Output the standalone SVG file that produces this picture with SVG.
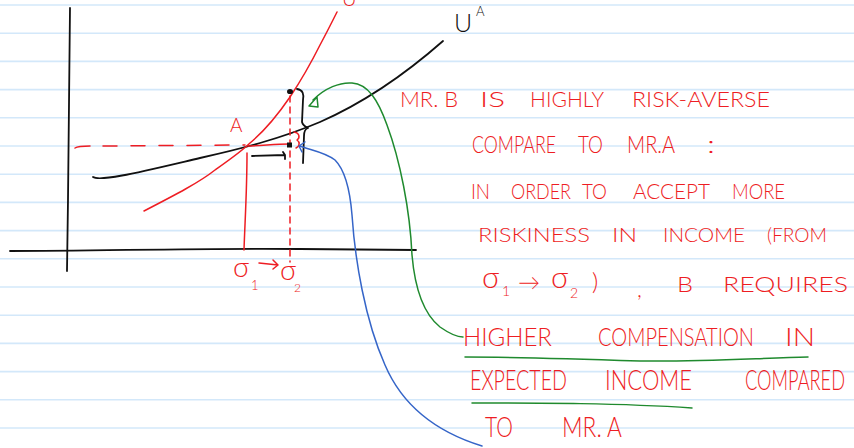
<svg xmlns="http://www.w3.org/2000/svg" width="854" height="448" viewBox="0 0 854 448">
<defs>
<style>
.rule{stroke:#d3e8fa;stroke-width:1.6}
.pen{fill:none;stroke-linecap:round;stroke-linejoin:round}
.blk{stroke:#111;stroke-width:1.8}
.red{stroke:#ee1d23;stroke-width:1.5}
.grn{stroke:#1f8a2e;stroke-width:1.5}
.blu{stroke:#3565c8;stroke-width:1.5}
.t{font-family:Lato,"Liberation Sans",sans-serif;font-weight:300;fill:#ee1d23}
.tk{font-family:Lato,"Liberation Sans",sans-serif;font-weight:300;fill:#111}
</style>
</defs>
<rect width="854" height="448" fill="#ffffff"/>
<g id="paper">
<line class="rule" x1="0" y1="5" x2="854" y2="5"/>
<line class="rule" x1="0" y1="33.2" x2="854" y2="33.2"/>
<line class="rule" x1="0" y1="61.4" x2="854" y2="61.4"/>
<line class="rule" x1="0" y1="89.6" x2="854" y2="89.6"/>
<line class="rule" x1="0" y1="117.8" x2="854" y2="117.8"/>
<line class="rule" x1="0" y1="146" x2="854" y2="146"/>
<line class="rule" x1="0" y1="174.2" x2="854" y2="174.2"/>
<line class="rule" x1="0" y1="202.4" x2="854" y2="202.4"/>
<line class="rule" x1="0" y1="230.6" x2="854" y2="230.6"/>
<line class="rule" x1="0" y1="258.8" x2="854" y2="258.8"/>
<line class="rule" x1="0" y1="287" x2="854" y2="287"/>
<line class="rule" x1="0" y1="315.2" x2="854" y2="315.2"/>
<line class="rule" x1="0" y1="343.4" x2="854" y2="343.4"/>
<line class="rule" x1="0" y1="371.6" x2="854" y2="371.6"/>
<line class="rule" x1="0" y1="399.8" x2="854" y2="399.8"/>
<line class="rule" x1="0" y1="428" x2="854" y2="428"/>
</g>
<g id="axes">
<path class="pen blk" d="M70,8 C69,60 69,150 68,200 L67,271"/>
<path class="pen blk" d="M10,251 C100,251 200,248 300,249 L416,250"/>
</g>
<g id="curve-UA">
<path class="pen blk" d="M93,177 C100,182 140,172 200,158 C240,149 280,139 320,122 C370,100 410,70 443,41"/>
<text class="tk" x="454" y="32" font-size="25">U</text>
<text class="tk" x="476" y="16" font-size="13">A</text>
</g>
<g id="curve-UB">
<path class="pen red" d="M144,211 C175,195 200,182 215,170 C232,158 242,151 250,143 C262,133 277,116 290,97 C300,82 310,65 320,45 C327,32 332,22 337,12"/>
<text class="t" x="342" y="6" font-size="20">U</text>
</g>
<g id="point-A">
<text class="t" x="230" y="132" font-size="19">A</text>
<path class="pen red" d="M75,148 C78,146 84,146 90,146"/>
<path class="pen red" d="M103,146 L245,145" stroke-dasharray="14 14"/>
<path class="pen red" d="M248,146 C260,146 275,144 289,144"/>
<path class="pen red" d="M247,153 C247,190 245,220 244,250"/>
<path class="pen red" d="M290,96 L290,262" stroke-dasharray="6 5"/>
<ellipse cx="290" cy="91.5" rx="3" ry="2.6" fill="#111"/>
<rect x="287" y="142.5" width="5" height="5" fill="#111"/>
<path class="pen blk" stroke-width="1.5" d="M252,156 L285,155 M283,152 L285,155 L285,159"/>
<path class="pen blk" stroke-width="1.5" d="M297,89 C303,90 304,94 303,100 L302,122 C303,126 306,127 308,128 C305,129 304,131 304,136 L303,163"/>
<path class="pen red" d="M294,132 C300,133 300,138 297,140 C300,142 300,146 296,148"/>
</g>
<g id="sigma-labels">
<text class="t" x="233" y="277" font-size="28">σ</text>
<text class="t" x="251" y="290" font-size="13">1</text>
<path class="pen red" d="M259,263 L278,265 M273,260 L278,265 L273,269"/>
<text class="t" x="280" y="280" font-size="28">σ</text>
<text class="t" x="294" y="292" font-size="12">2</text>
</g>
<g id="connectors">
<path class="pen grn" d="M313,100 C325,88 340,82 352,83 C368,84 378,100 387,125 C400,160 410,210 412,255 C415,290 425,315 440,327 C450,334 458,337 463,337"/>
<polygon class="pen grn" points="309,106 317,97 318,107"/>
<path class="pen blu" d="M300,146 C310,150 325,152 335,160 C345,170 350,190 352,215 C355,260 365,320 385,365 C400,400 430,430 482,446"/>
<path class="pen blu" d="M305,142 L299,146 L302,152"/>
</g>
<g id="note">
<text class="t" font-size="21" x="400" y="107" textLength="58" lengthAdjust="spacingAndGlyphs">MR. B</text>
<text class="t" font-size="21" x="480" y="107" textLength="25" lengthAdjust="spacingAndGlyphs">IS</text>
<text class="t" font-size="21" x="530" y="107" textLength="74" lengthAdjust="spacingAndGlyphs">HIGHLY</text>
<text class="t" font-size="21" x="632" y="107" textLength="138" lengthAdjust="spacingAndGlyphs">RISK-AVERSE</text>
<text class="t" font-size="23" x="472" y="153" textLength="84" lengthAdjust="spacingAndGlyphs">COMPARE</text>
<text class="t" font-size="23" x="578" y="153" textLength="25" lengthAdjust="spacingAndGlyphs">TO</text>
<text class="t" font-size="23" x="627" y="153" textLength="48" lengthAdjust="spacingAndGlyphs">MR.A</text>
<text class="t" font-size="23" x="707" y="153" textLength="8" lengthAdjust="spacingAndGlyphs">:</text>
<text class="t" font-size="22" x="471" y="199" textLength="19" lengthAdjust="spacingAndGlyphs">IN</text>
<text class="t" font-size="22" x="511" y="199" textLength="60" lengthAdjust="spacingAndGlyphs">ORDER</text>
<text class="t" font-size="22" x="582" y="199" textLength="25" lengthAdjust="spacingAndGlyphs">TO</text>
<text class="t" font-size="22" x="633" y="199" textLength="77" lengthAdjust="spacingAndGlyphs">ACCEPT</text>
<text class="t" font-size="22" x="732" y="199" textLength="53" lengthAdjust="spacingAndGlyphs">MORE</text>
<text class="t" font-size="19" x="478" y="242" textLength="112" lengthAdjust="spacingAndGlyphs">RISKINESS</text>
<text class="t" font-size="19" x="612" y="242" textLength="25" lengthAdjust="spacingAndGlyphs">IN</text>
<text class="t" font-size="19" x="663" y="242" textLength="82" lengthAdjust="spacingAndGlyphs">INCOME</text>
<text class="t" font-size="19" x="767" y="242" textLength="60" lengthAdjust="spacingAndGlyphs">(FROM</text>
<text class="t" font-size="30" x="482" y="288">σ</text>
<text class="t" font-size="14" x="502" y="296">1</text>
<text class="t" font-size="22" x="518" y="290">→</text>
<text class="t" font-size="30" x="551" y="288">σ</text>
<text class="t" font-size="14" x="570" y="298">2</text>
<text class="t" font-size="24" x="592" y="290">)</text>
<text class="t" font-size="22" x="637" y="297">,</text>
<text class="t" font-size="22" x="677" y="292" textLength="16" lengthAdjust="spacingAndGlyphs">B</text>
<text class="t" font-size="22" x="723" y="292" textLength="125" lengthAdjust="spacingAndGlyphs">REQUIRES</text>
<text class="t" font-size="25" x="463" y="346" textLength="89" lengthAdjust="spacingAndGlyphs">HIGHER</text>
<text class="t" font-size="25" x="598" y="346" textLength="156" lengthAdjust="spacingAndGlyphs">COMPENSATION</text>
<text class="t" font-size="25" x="785" y="346" textLength="30" lengthAdjust="spacingAndGlyphs">IN</text>
<path class="pen grn" d="M465,357 C520,357 580,359 640,361 C700,362 760,358 808,357"/>
<text class="t" font-size="28" x="470" y="390" textLength="97" lengthAdjust="spacingAndGlyphs">EXPECTED</text>
<text class="t" font-size="28" x="605" y="390" textLength="87" lengthAdjust="spacingAndGlyphs">INCOME</text>
<text class="t" font-size="28" x="745" y="390" textLength="100" lengthAdjust="spacingAndGlyphs">COMPARED</text>
<path class="pen grn" d="M472,403 C540,403 620,403 692,408"/>
<text class="t" font-size="28" x="485" y="437" textLength="28" lengthAdjust="spacingAndGlyphs">TO</text>
<text class="t" font-size="28" x="562" y="437" textLength="60" lengthAdjust="spacingAndGlyphs">MR. A</text>
</g>
</svg>
